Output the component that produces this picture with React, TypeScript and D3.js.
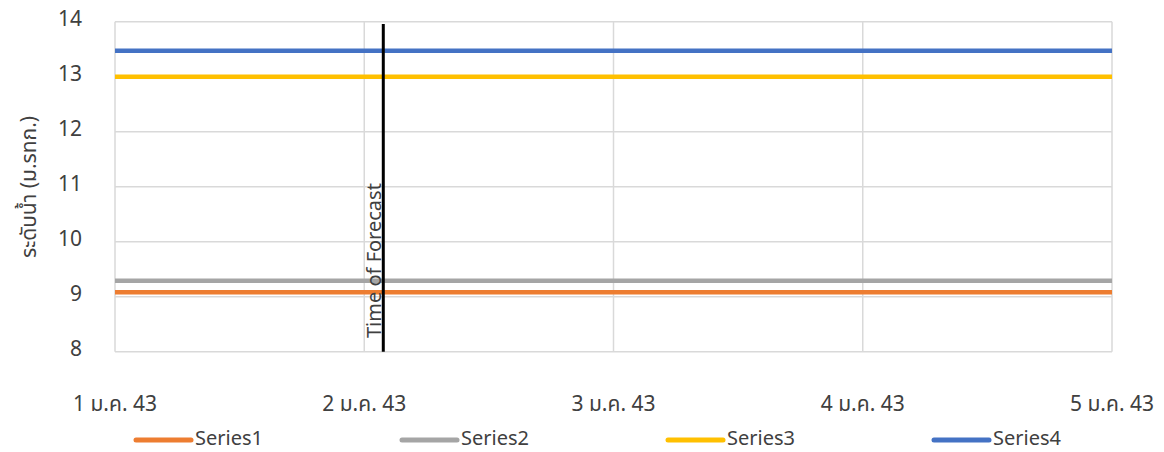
import React from "react";
import * as d3 from "d3";

const dates = ["2000-01-01", "2000-01-02", "2000-01-03", "2000-01-04", "2000-01-05"];
const xTickLabels = ["1 ม.ค. 43", "2 ม.ค. 43", "3 ม.ค. 43", "4 ม.ค. 43", "5 ม.ค. 43"];
const series1 = [9.08, 9.08, 9.08, 9.08, 9.08];
const series2 = [9.29, 9.29, 9.29, 9.29, 9.29];
const series3 = [13.0, 13.0, 13.0, 13.0, 13.0];
const series4 = [13.47, 13.47, 13.47, 13.47, 13.47];
const seriesNames = ["Series1", "Series2", "Series3", "Series4"];
const yTicks = [8, 9, 10, 11, 12, 13, 14];
const forecastTime = "2000-01-02T01:50:00";
const yTitle = "ระดับน้ำ (ม.รทก.)";

const colors = ["#ED7D31", "#A5A5A5", "#FFC000", "#4472C4"];
const FONT = "'Segoe UI', 'Noto Sans Thai', 'Leelawadee UI', 'Open Sans', 'Noto Sans', sans-serif";
const TEXT = "#404040";

export default function App() {
  const W = 1164, H = 452;
  const left = 115, right = 1112, top = 21.7, bottom = 351.7;
  const parsed = dates.map((d) => new Date(d + "T00:00:00"));
  const x = d3.scaleTime().domain([parsed[0], parsed[parsed.length - 1]]).range([left, right]);
  const y = d3.scaleLinear().domain([8, 14]).range([bottom, top]);
  const all = [series1, series2, series3, series4];
  const line = d3.line<number>().x((_, i) => x(parsed[i])).y((v) => y(v));
  const fx = x(new Date(forecastTime));
  const legendX = [136, 402, 668, 934];

  return (
    <svg width={W} height={H} style={{ position: "absolute", left: 0, top: 0, background: "#fff" }} fontFamily={FONT}>
      {yTicks.map((t) => (
        <line key={"gy" + t} x1={left} x2={right} y1={y(t)} y2={y(t)} stroke="#d9d9d9" strokeWidth={1.5} />
      ))}
      {parsed.map((d, i) => (
        <line key={"gx" + i} x1={x(d)} x2={x(d)} y1={top} y2={bottom} stroke="#d9d9d9" strokeWidth={1.5} />
      ))}
      {all.map((s, k) => (
        <path key={"s" + k} d={line(s) || ""} fill="none" stroke={colors[k]} strokeWidth={4.5} />
      ))}
      <line x1={fx} x2={fx} y1={24} y2={bottom} stroke="#000" strokeWidth={3} />
      <text transform={`translate(${fx - 2},338) rotate(-90)`} fontSize={20} fill={TEXT}>Time of Forecast</text>
      {yTicks.map((t) => (
        <text key={"yl" + t} x={82} y={y(t) - 2} textAnchor="end" dominantBaseline="central" fontSize={21} fill={TEXT}>{t}</text>
      ))}
      {parsed.map((d, i) => (
        <text key={"xl" + i} x={x(d)} y={411} textAnchor="middle" fontSize={21} fill={TEXT}>{xTickLabels[i]}</text>
      ))}
      <text transform={`translate(36,187) rotate(-90)`} textAnchor="middle" fontSize={21} fill={TEXT}>{yTitle}</text>
      {seriesNames.map((n, k) => (
        <g key={"lg" + k}>
          <line x1={legendX[k]} x2={legendX[k] + 55} y1={440} y2={440} stroke={colors[k]} strokeWidth={5} strokeLinecap="round" />
          <text x={legendX[k] + 59} y={445} fontSize={20} fill={TEXT}>{n}</text>
        </g>
      ))}
    </svg>
  );
}
